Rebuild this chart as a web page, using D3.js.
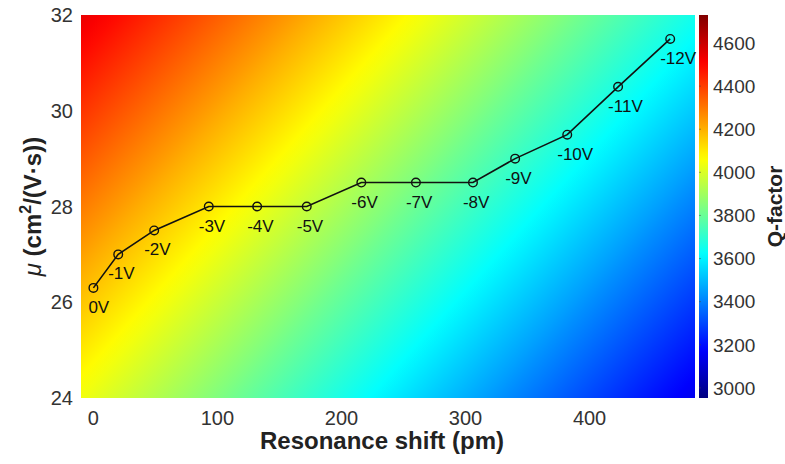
<!DOCTYPE html>
<html>
<head>
<meta charset="utf-8">
<script src="https://cdn.jsdelivr.net/npm/d3@7"></script>
<style>
  body { margin: 0; background: #fff; }
  text { font-family: "Liberation Sans", Arial, Helvetica, sans-serif; }
</style>
</head>
<body>
<div id="div1"></div>
<script>

// data
let voltLabels = ["0V","-1V","-2V","-3V","-4V","-5V","-6V","-7V","-8V","-9V","-10V","-11V","-12V"];
let shift = [0, 20, 49, 93, 132, 172, 216, 260, 306, 340, 382, 423, 465];
let mobility = [26.3, 27.0, 27.5, 28.0, 28.0, 28.0, 28.5, 28.5, 28.5, 29.0, 29.5, 30.5, 31.5];

let xTicks = [0, 100, 200, 300, 400];
let yTicks = [24, 26, 28, 30, 32];
let qTicks = [3000, 3200, 3400, 3600, 3800, 4000, 4200, 4400, 4600];

// Q-factor of the background map at its corners (x: -10 / 485, y: 32 / 24)
let qTop = [4545, 3650];
let qBottom = [4040, 3145];
let qRange = [2953, 4730];

let W = 785, H = 464;
let pLeft = 81, pRight = 695, pTop = 15, pBottom = 398;

let svg = d3.select("#div1").append("svg")
  .attr("width", W)
  .attr("height", H)

let x = d3.scaleLinear().domain([-10, 485]).range([pLeft, pRight]);
let y = d3.scaleLinear().domain([24, 32]).range([pBottom, pTop]);
let qScale = d3.scaleLinear().domain(qRange).range([0, 1]);
let cbY = d3.scaleLinear().domain(qRange).range([pBottom, pTop]);

// MATLAB jet colormap
function jet(t) {
  let c = v => Math.round(255 * Math.max(0, Math.min(1, v)));
  return d3.rgb(c(1.5 - Math.abs(4*t - 3)), c(1.5 - Math.abs(4*t - 2)), c(1.5 - Math.abs(4*t - 1)));
}
function qColor(q) { return jet(qScale(q)); }

let defs = svg.append("defs");

// background: a plane of Q values, drawn as a linear gradient along its slope
let x0 = x(-10), x1 = x(485), y0 = y(32), y1 = y(24);
let a = (qTop[1] - qTop[0]) / (x1 - x0);
let b = (qBottom[0] - qTop[0]) / (y1 - y0);
let s = (qBottom[1] - qTop[0]) / (a*a + b*b);

let bg = defs.append("linearGradient")
  .attr("id", "bgGrad")
  .attr("gradientUnits", "userSpaceOnUse")
  .attr("x1", x0).attr("y1", y0)
  .attr("x2", x0 + a*s).attr("y2", y0 + b*s);

d3.range(0, 1.0001, 0.02).forEach(function(o) {
  bg.append("stop")
    .attr("offset", o)
    .attr("stop-color", qColor(qTop[0] + (qBottom[1] - qTop[0]) * o));
});

svg.append("rect")
  .attr("x", x0).attr("y", y0)
  .attr("width", x1 - x0).attr("height", y1 - y0)
  .attr("fill", "url(#bgGrad)");

// colorbar
let cb = defs.append("linearGradient")
  .attr("id", "cbGrad")
  .attr("x1", 0).attr("y1", 1).attr("x2", 0).attr("y2", 0);
d3.range(0, 1.0001, 0.02).forEach(function(o) {
  cb.append("stop")
    .attr("offset", o)
    .attr("stop-color", jet(o));
});

let cbX = 699, cbW = 9;
svg.append("rect")
  .attr("x", cbX).attr("y", cbY(qRange[1]))
  .attr("width", cbW).attr("height", cbY(qRange[0]) - cbY(qRange[1]))
  .attr("fill", "url(#cbGrad)");

svg.selectAll(".cbtick")
  .data(qTicks)
  .enter()
  .append("line")
  .attr("x1", cbX).attr("x2", cbX + 2)
  .attr("y1", d => cbY(d)).attr("y2", d => cbY(d))
  .style("stroke", "#444")
  .style("stroke-opacity", 0.5);

svg.selectAll(".cblabel")
  .data(qTicks)
  .enter()
  .append("text")
  .attr("x", 713)
  .attr("y", d => cbY(d))
  .attr("dy", "0.36em")
  .attr("font-size", 19)
  .attr("fill", "#333")
  .text(d => d);

svg.append("text")
  .attr("transform", "translate(782," + ((pTop + pBottom) / 2) + ") rotate(-90)")
  .attr("text-anchor", "middle")
  .attr("font-size", 21)
  .attr("font-weight", "bold")
  .attr("fill", "#222")
  .text("Q-factor");

// axes tick labels
svg.selectAll(".xlabel")
  .data(xTicks)
  .enter()
  .append("text")
  .attr("x", d => x(d))
  .attr("y", 425)
  .attr("text-anchor", "middle")
  .attr("font-size", 20)
  .attr("fill", "#333")
  .text(d => d);

svg.selectAll(".ylabel")
  .data(yTicks)
  .enter()
  .append("text")
  .attr("x", 73)
  .attr("y", d => y(d))
  .attr("dy", "0.36em")
  .attr("text-anchor", "end")
  .attr("font-size", 20)
  .attr("fill", "#333")
  .text(d => d);

// axis titles
svg.append("text")
  .attr("x", (pLeft + pRight) / 2 - 6)
  .attr("y", 449)
  .attr("text-anchor", "middle")
  .attr("font-size", 24)
  .attr("font-weight", "bold")
  .attr("fill", "#222")
  .text("Resonance shift (pm)");

let yt = svg.append("text")
  .attr("transform", "translate(41," + ((pTop + pBottom) / 2) + ") rotate(-90)")
  .attr("text-anchor", "middle")
  .attr("font-size", 24)
  .attr("font-weight", "bold")
  .attr("fill", "#222");
yt.append("tspan").attr("font-style", "italic").attr("font-weight", "normal").text("\u03bc");
yt.append("tspan").text(" (cm");
yt.append("tspan").attr("font-size", 16).attr("dy", -10).text("2");
yt.append("tspan").attr("dy", 10).text("/(V\u00b7s))");

// line with open circles
let pts = shift.map((d, i) => [d, mobility[i]]);

svg.append("path")
  .datum(pts)
  .attr("d", d3.line().x(d => x(d[0])).y(d => y(d[1])))
  .style("fill", "none")
  .style("stroke", "#111")
  .style("stroke-width", 1.6);

svg.selectAll("circle")
  .data(pts)
  .enter()
  .append("circle")
  .attr("cx", d => x(d[0]))
  .attr("cy", d => y(d[1]))
  .attr("r", 4.3)
  .style("fill", "none")
  .style("stroke", "#111")
  .style("stroke-width", 1.4);

svg.selectAll(".vlabel")
  .data(pts)
  .enter()
  .append("text")
  .attr("x", (d, i) => x(d[0]) - (voltLabels[i][0] === "-" ? 10 : 5))
  .attr("y", d => y(d[1]) + 25)
  .attr("font-size", 17)
  .attr("fill", "#111")
  .text((d, i) => voltLabels[i]);

</script>
</body>
</html>
